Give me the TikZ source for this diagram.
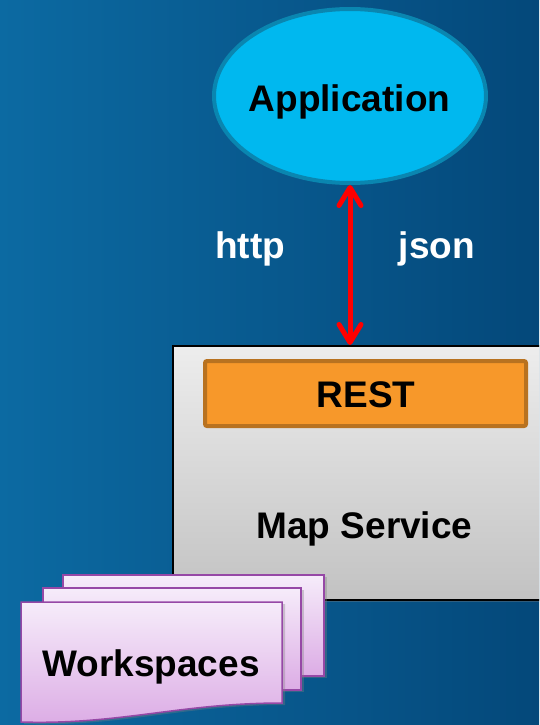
\documentclass[tikz,border=0pt]{standalone}
\usepackage{fontspec}
\setmainfont{Liberation Sans}
\usetikzlibrary{shapes.geometric,arrows.meta,shadows}
\definecolor{bgleft}{RGB}{12,106,162}
\definecolor{bgright}{RGB}{4,72,122}
\definecolor{appfill}{RGB}{0,184,239}
\definecolor{appedge}{RGB}{10,134,176}
\definecolor{restfill}{RGB}{247,152,42}
\definecolor{restedge}{RGB}{184,114,32}
\definecolor{boxtop}{RGB}{237,237,237}
\definecolor{boxbottom}{RGB}{194,194,194}
\definecolor{pagetop}{RGB}{246,236,250}
\definecolor{pagebottom}{RGB}{220,172,229}
\definecolor{pageedge}{RGB}{150,72,166}
\begin{document}
\begin{tikzpicture}[x=1pt,y=-1pt,
  lbl/.style={font=\fontsize{37}{44}\selectfont\bfseries, inner sep=0pt, anchor=base},
  appshape/.style={ellipse, draw=appedge, fill=appfill, line width=4pt,
    minimum width=272pt, minimum height=174pt, inner sep=0pt},
  servicebox/.style={rectangle, draw=black, line width=1.5pt,
    top color=boxtop, bottom color=boxbottom,
    minimum width=385pt, minimum height=254pt, inner sep=0pt,
    drop shadow={opacity=0.35, shadow xshift=2pt, shadow yshift=-2pt}},
  restbox/.style={rectangle, draw=restedge, fill=restfill, line width=4pt,
    rounded corners=2pt, minimum width=321pt, minimum height=65pt, inner sep=0pt},
  page/.style={draw=pageedge, line width=1.5pt, top color=pagetop, bottom color=pagebottom,
    drop shadow={opacity=0.35, shadow xshift=3pt, shadow yshift=-2pt}},
  link/.style={draw=red, line width=5pt,
    {Straight Barb[length=18pt, width=22pt, round]}-{Straight Barb[length=18pt, width=22pt, round]}}
]
\useasboundingbox (0,0) rectangle (539,725);
\clip (0,0) rectangle (539,725);

% background
\shade[left color=bgleft, right color=bgright] (0,0) rectangle (539,725);

% client application
\node[appshape] (app) at (350,96) {};
\node[lbl] (apptext) at (349.5,111) {Application};

% map service with its REST endpoint
\node[servicebox, anchor=north west] (ms) at (172,345) {};
\node[restbox] (rest) at (365.5,393.5) {};
\node[lbl] (resttext) at (366,407) {REST};
\node[lbl] (mstext) at (364.5,538) {Map Service};

% request / response
\draw[link] (app.south) -- (app.south |- ms.north);
\node[lbl, text=white] (http) at (250,258) {http};
\node[lbl, text=white] (json) at (437,258) {json};

% stacked workspace documents
\path[page] (63,575) rectangle (324,676);
\path[page] (43,588) rectangle (301,690);
\path[page] (21,602) -- (282,602) -- (282,703)
  .. controls (180,703) and (120,725) .. (21,722) -- cycle;
\node[lbl] (ws) at (151,676) {Workspaces};
\end{tikzpicture}
\end{document}
